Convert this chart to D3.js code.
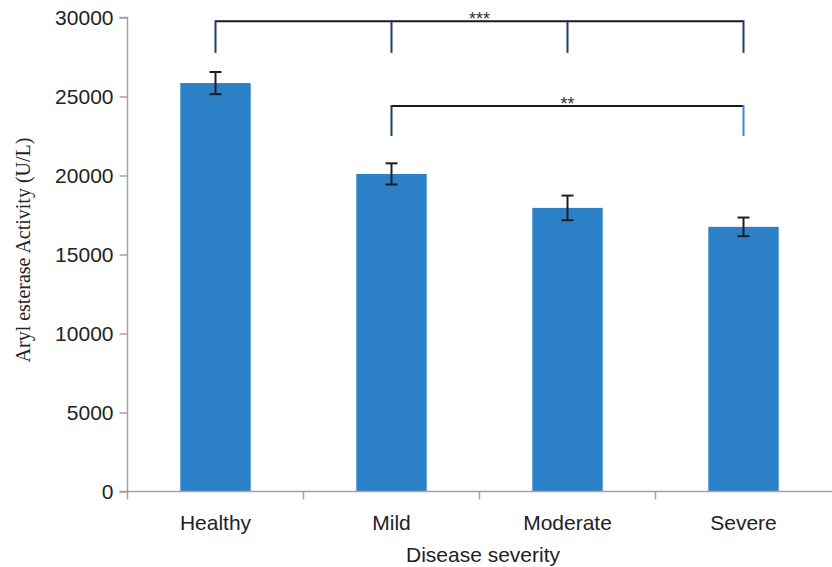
<!DOCTYPE html>
<html>
<head>
<meta charset="utf-8">
<script src="https://cdn.jsdelivr.net/npm/d3@7"></script>
<style>
  html, body { margin: 0; padding: 0; background: #fff; }
  svg { display: block; }
</style>
</head>
<body>
<svg id="chart" width="832" height="567"></svg>
<script>
// ---- data ----
const categories = ["Healthy", "Mild", "Moderate", "Severe"];
const means = [25850, 20100, 17950, 16750];
const errors = [700, 670, 780, 590];
const yTicks = [0, 5000, 10000, 15000, 20000, 25000, 30000];
const yTitle = "Aryl esterase Activity (U/L)";
const xTitle = "Disease severity";
// significance brackets: categories joined, bar height in data units, leg bottom, label
const bracketCats = [["Healthy", "Mild", "Moderate", "Severe"], ["Mild", "Severe"]];
const bracketTop = [29760, 24400];
const bracketLegBottom = [27760, 22500];
const bracketLabels = ["***", "**"];

// ---- layout ----
const svg = d3.select("#chart");
const mLeft = 127.5, mRight = 831.5, mTop = 17.5, mBottom = 491.5;

const x = d3.scaleBand().domain(categories).range([mLeft, mRight]).paddingInner(0.6).paddingOuter(0.3);
const xOuter = d3.scaleBand().domain(categories).range([mLeft, mRight]).padding(0);
const y = d3.scaleLinear().domain([0, 30000]).range([mBottom, mTop]);

const axisColor = "#a3a3a3";
const font = "'Liberation Sans', Arial, Helvetica, sans-serif";

// bars
svg.append("g").selectAll("rect").data(categories).join("rect")
  .attr("x", d => x(d))
  .attr("width", x.bandwidth())
  .attr("y", (d, i) => y(means[i]))
  .attr("height", (d, i) => y(0) - y(means[i]))
  .attr("fill", "#2b80c6");

// error bars
const eb = svg.append("g").attr("stroke", "#1e1e1e").attr("stroke-width", 2);
categories.forEach((c, i) => {
  const cx = x(c) + x.bandwidth() / 2;
  eb.append("line").attr("x1", cx).attr("x2", cx).attr("y1", y(means[i] + errors[i])).attr("y2", y(means[i] - errors[i]));
  eb.append("line").attr("x1", cx - 6).attr("x2", cx + 6).attr("y1", y(means[i] + errors[i])).attr("y2", y(means[i] + errors[i]));
  eb.append("line").attr("x1", cx - 6).attr("x2", cx + 6).attr("y1", y(means[i] - errors[i])).attr("y2", y(means[i] - errors[i]));
});

// y axis
const yAxis = d3.axisLeft(y).tickValues(yTicks).tickSize(8).tickPadding(6).tickFormat(d3.format("d"));
const gy = svg.append("g").attr("transform", `translate(${mLeft},0)`).call(yAxis);
gy.select(".domain").attr("stroke", axisColor).attr("stroke-width", 1.5).attr("d", `M-8,${mTop}H0V${mBottom}H-8`);
gy.selectAll(".tick line").attr("stroke", axisColor).attr("stroke-width", 1.5);
gy.selectAll(".tick text").attr("font-family", font).attr("font-size", 21).attr("fill", "#222");

// x axis
const xAxis = d3.axisBottom(xOuter).tickSize(0).tickPadding(24);
const gx = svg.append("g").attr("transform", `translate(0,${mBottom})`).call(xAxis);
gx.select(".domain").attr("stroke", axisColor).attr("stroke-width", 1.5).attr("d", `M${mLeft},0H${mRight + 1}`);
gx.selectAll(".tick text").attr("font-family", font).attr("font-size", 21).attr("fill", "#222").attr("dy", "0.71em");
// boundary ticks between categories
const boundaries = categories.map(c => xOuter(c));
gx.append("g").selectAll("line").data(boundaries).join("line")
  .attr("x1", d => d).attr("x2", d => d).attr("y1", 0).attr("y2", 8)
  .attr("stroke", axisColor).attr("stroke-width", 1.5);

// axis titles
svg.append("text")
  .attr("transform", `translate(30,250) rotate(-90)`)
  .attr("text-anchor", "middle")
  .attr("font-family", "'Liberation Serif', 'Times New Roman', serif")
  .attr("font-size", 20).attr("fill", "#222")
  .text(yTitle);
svg.append("text")
  .attr("x", 483).attr("y", 562)
  .attr("text-anchor", "middle")
  .attr("font-family", font).attr("font-size", 21).attr("fill", "#222")
  .text(xTitle);

// significance brackets
const bg = svg.append("g");
bracketCats.forEach((cats, k) => {
  const xs = cats.map(c => x(c) + x.bandwidth() / 2);
  const yTop = y(bracketTop[k]);
  const yLeg = y(bracketLegBottom[k]);
  bg.append("line").attr("x1", xs[0]).attr("x2", xs[xs.length - 1]).attr("y1", yTop).attr("y2", yTop)
    .attr("stroke", "#1a1a1a").attr("stroke-width", 2);
  xs.forEach((xx, j) => {
    const isLastBlue = k === 1 && j === xs.length - 1;
    bg.append("line").attr("x1", xx).attr("x2", xx).attr("y1", yTop - 1).attr("y2", yLeg)
      .attr("stroke", isLastBlue ? "#3d8bd0" : "#1f3d6b").attr("stroke-width", 2);
  });
  bg.append("text")
    .attr("x", (xs[0] + xs[xs.length - 1]) / 2).attr("y", yTop + 4)
    .attr("text-anchor", "middle")
    .attr("font-family", font).attr("font-size", 18).attr("fill", "#333")
    .text(bracketLabels[k]);
});
</script>
</body>
</html>
